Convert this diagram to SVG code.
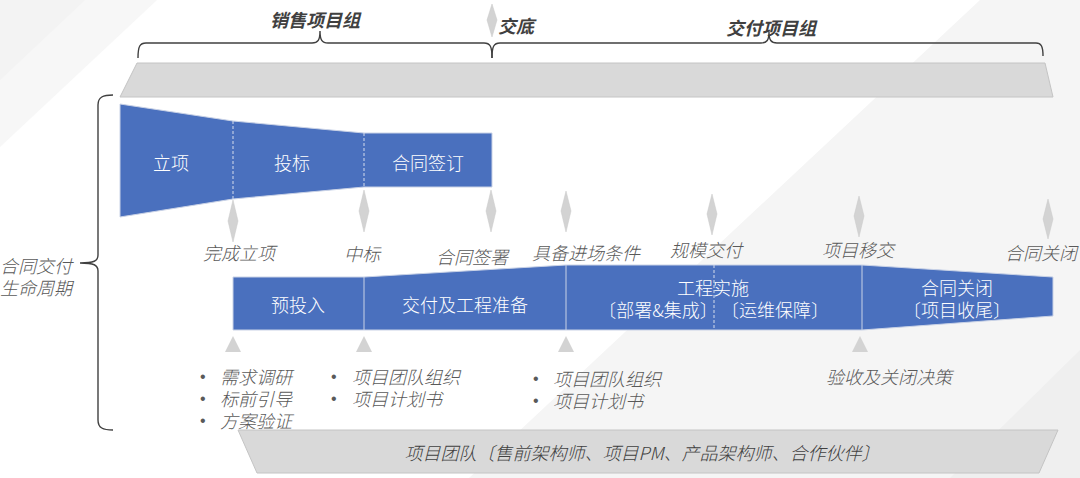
<svg xmlns="http://www.w3.org/2000/svg" width="1080" height="478" viewBox="0 0 1080 478">
<defs>
<style>
text{font-family:"Noto Sans CJK SC","Noto Sans",sans-serif;dominant-baseline:central;font-weight:300}
.lbl{font-size:18px;fill:#595959;font-style:italic}
.hdr{font-size:18px;fill:#404040;font-weight:bold;font-style:italic}
.wt{font-size:18px;fill:#ffffff}
.mid{text-anchor:middle}
.bul{font-size:16px;fill:#595959;font-style:normal;font-family:"DejaVu Sans",sans-serif}
.blue{fill:#4a70be}
.div{stroke:#c9d2e6;stroke-width:1;fill:none}
.dash{stroke:#d5dcec;stroke-width:1;stroke-dasharray:3 2;fill:none}
.dia{fill:#d3d3d3;stroke:#c8c8c8;stroke-width:0.5}
.tri{fill:#d3d3d3}
.bar{fill:#d9d9d9;stroke:#c4c4c4;stroke-width:1}
.brace{fill:none;stroke:#404040;stroke-width:1.4}
</style>
</defs>
<rect width="1080" height="478" fill="#ffffff"/>
<g id="background">
<polygon points="0,0 157,0 0,147" fill="#f7f7f7"/>
<polygon points="0,0 85,0 0,80" fill="#f3f3f3"/>
<polygon points="980,0 1080,0 1080,478 469,478" fill="#f5f5f5"/>
<polygon points="1080,350 1080,478 950,478" fill="#efefef"/>
</g>
<g id="braces">
<path class="brace" d="M138,58 C138,46 140,43 146,43 L312,43 C318,43 320,40 320,31 C320,40 322,43 328,43 L484,43 C490,43 492,46 492,58"/>
<path class="brace" d="M492,58 C492,46 494,43 500,43 L761,43 C767,43 769,40 769,32 C769,40 771,43 777,43 L1036,43 C1041,43 1043,46 1043,56"/>
<path class="brace" d="M113,95 C103,95 98,97 98,105 L98,255 C98,261 94,263 80,263 C94,263 98,265 98,271 L98,420 C98,428 103,430 113,430"/>
</g>
<g id="header-sales"><text class="hdr mid" x="315" y="19">销售项目组</text></g>
<g id="header-handover">
<path class="dia" d="M492,4 L497,20 L492,37 L487,20 Z"/>
<text class="hdr" x="498" y="25">交底</text>
</g>
<g id="header-delivery"><text class="hdr mid" x="771" y="27">交付项目组</text></g>
<g id="top-bar"><polygon class="bar" points="137,63 1045,63 1053,97 120,97"/></g>
<g id="lifecycle-label">
<text class="lbl" x="0" y="265">合同交付</text>
<text class="lbl" x="0" y="287">生命周期</text>
</g>
<g id="sales-funnel">
<polygon class="blue" points="120,104 233,121 364,133 492,133 492,187 364,187 233,199 120,217" stroke="#c9d2e6" stroke-width="1"/>
<line class="dash" x1="233" y1="121" x2="233" y2="199"/>
<line class="dash" x1="364" y1="133" x2="364" y2="187"/>
<text class="wt mid" x="171" y="162">立项</text>
<text class="wt mid" x="292" y="162">投标</text>
<text class="wt mid" x="428" y="162">合同签订</text>
</g>
<g id="milestones">
<path class="dia" d="M233,200 L238,221 L233,242 L228,221 Z"/>
<path class="dia" d="M364,190 L369,211 L364,232 L359,211 Z"/>
<path class="dia" d="M491,190 L496,211 L491,232 L486,211 Z"/>
<path class="dia" d="M566,191 L571,211 L566,232 L561,211 Z"/>
<path class="dia" d="M712,194 L717,214 L712,235 L707,214 Z"/>
<path class="dia" d="M859,196 L864,216 L859,237 L854,216 Z"/>
<path class="dia" d="M1048,199 L1053,219 L1048,239 L1043,219 Z"/>
<text class="lbl mid" x="239" y="252">完成立项</text>
<text class="lbl mid" x="362" y="253">中标</text>
<text class="lbl mid" x="472" y="256">合同签署</text>
<text class="lbl mid" x="586" y="252">具备进场条件</text>
<text class="lbl mid" x="706" y="249">规模交付</text>
<text class="lbl mid" x="858" y="249">项目移交</text>
<text class="lbl mid" x="1041" y="252">合同关闭</text>
</g>
<g id="stage-preinvest">
<rect class="blue" x="233" y="277" width="131" height="53"/>
<text class="wt mid" x="298" y="304">预投入</text>
</g>
<g id="stage-prepare">
<polygon class="blue" points="364,277 566,265 566,330 364,330"/>
<text class="wt mid" x="465" y="304">交付及工程准备</text>
</g>
<g id="stage-implement">
<rect class="blue" x="566" y="265" width="296" height="65"/>
<line class="dash" x1="714" y1="265" x2="714" y2="330"/>
<text class="wt mid" x="713" y="287">工程实施</text>
<text class="wt mid" x="658" y="309">〔部署&amp;集成〕</text>
<text class="wt mid" x="775" y="309">〔运维保障〕</text>
</g>
<g id="stage-close">
<polygon class="blue" points="862,265 1053,277 1053,316 862,330"/>
<text class="wt mid" x="957" y="287">合同关闭</text>
<text class="wt mid" x="957" y="309">〔项目收尾〕</text>
</g>
<g id="stage-dividers">
<polygon points="233,277 364,277 566,265 862,265 1053,277 1053,316 862,330 233,330" fill="none" stroke="#c9d2e6" stroke-width="1"/>
<line class="div" x1="364" y1="277" x2="364" y2="330"/>
<line class="div" x1="566" y1="265" x2="566" y2="330"/>
<line class="div" x1="862" y1="265" x2="862" y2="330"/>
</g>
<g id="gates">
<polygon class="tri" points="233,336 241,352 225,352"/>
<polygon class="tri" points="364,336 372,352 356,352"/>
<polygon class="tri" points="566,336 574,352 558,352"/>
<polygon class="tri" points="860,336 868,352 852,352"/>
</g>
<g id="notes-preinvest">
<text class="bul" x="200" y="376">•</text><text class="lbl" x="220" y="376">需求调研</text>
<text class="bul" x="200" y="398">•</text><text class="lbl" x="220" y="398">标前引导</text>
<text class="bul" x="200" y="420">•</text><text class="lbl" x="220" y="420">方案验证</text>
</g>
<g id="notes-bid">
<text class="bul" x="331" y="376">•</text><text class="lbl" x="352" y="376">项目团队组织</text>
<text class="bul" x="331" y="398">•</text><text class="lbl" x="352" y="398">项目计划书</text>
</g>
<g id="notes-entry">
<text class="bul" x="533" y="378">•</text><text class="lbl" x="553" y="378">项目团队组织</text>
<text class="bul" x="533" y="400">•</text><text class="lbl" x="553" y="400">项目计划书</text>
</g>
<g id="notes-close"><text class="lbl mid" x="889" y="376">验收及关闭决策</text></g>
<g id="team-bar">
<polygon class="bar" points="238,430 1058,430 1039,473 257,473"/>
<text class="lbl mid" style="fill:#404040" x="642" y="452">项目团队〔售前架构师、项目PM、产品架构师、合作伙伴〕</text>
</g>
</svg>
